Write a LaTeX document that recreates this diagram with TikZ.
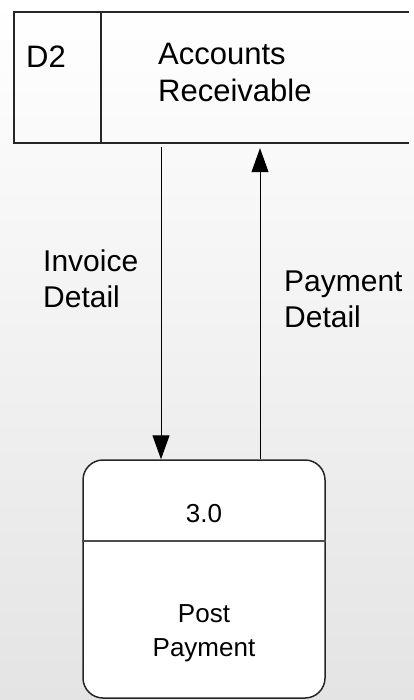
\documentclass[tikz,border=0pt]{standalone}
\usepackage{fontspec}
\setmainfont{Liberation Sans}
\usetikzlibrary{arrows.meta}
\begin{document}
\begin{tikzpicture}[x=1pt,y=-1pt,
  boxline/.style={draw=black!85,line width=1.5pt},
  flow/.style={draw=black,line width=1pt,-{Triangle[width=17pt,length=24pt]}},
  storetext/.style={font=\fontsize{31}{37}\selectfont,inner sep=0pt},
  flowtext/.style={font=\fontsize{30}{36}\selectfont,inner sep=0pt,align=left},
  proctext/.style={font=\fontsize{26}{34}\selectfont,inner sep=0pt,align=center}]
% page background
\shade[top color=white,bottom color={rgb,255:red,228;green,228;blue,228}]
  (0,0) rectangle (414,700);
\useasboundingbox (0,0) rectangle (414,700);

% data store D2 (open on the right)
\node[minimum width=395pt,minimum height=131pt,inner sep=0pt] (store) at (211.5,77.5) {};
\draw[boxline] (store.north east) -- (store.north west) -- (store.south west) -- (store.south east);
\draw[boxline,line width=1.2pt] (101,12) -- (101,143);
\node[storetext,anchor=base west] (sid) at (26,68) {D2};
% multi-line nodes: base anchor sits on the last line
\node[storetext,anchor=base west,align=left] (sname) at (158,102) {Accounts\\Receivable};

% process 3.0
\node[draw=black!85,line width=1.5pt,fill=white,rounded corners=20pt,
      minimum width=242pt,minimum height=238pt,inner sep=0pt] (proc) at (204,579) {};
\draw[draw=black!70,line width=1.2pt] (proc.west |- 0,541) -- (proc.east |- 0,541);
\node[proctext,anchor=base] (pid) at (204,522) {3.0};
\node[proctext,anchor=base] (pname) at (204,656) {Post\\Payment};

% data flows
\coordinate (xin) at (161,0);
\coordinate (xout) at (260,0);
\draw[flow,shorten <=4pt] (store.south -| xin) -- (proc.north -| xin);
\draw[flow,shorten >=5pt] (proc.north -| xout) -- (store.south -| xout);
\node[flowtext,anchor=base west] (lin) at (43,307) {Invoice\\Detail};
\node[flowtext,anchor=base west] (lout) at (284,327) {Payment\\Detail};
\end{tikzpicture}
\end{document}
